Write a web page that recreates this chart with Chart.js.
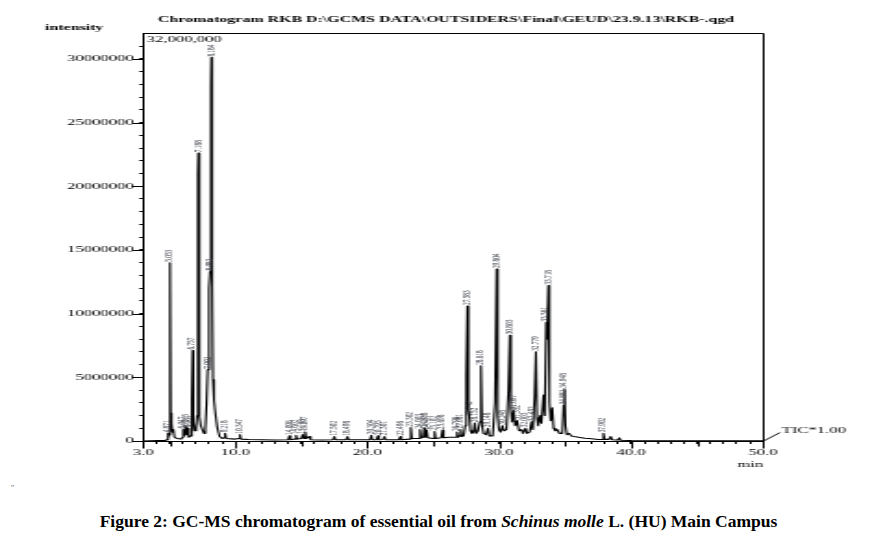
<!DOCTYPE html>
<html>
<head>
<meta charset="utf-8">
<script src="https://cdn.jsdelivr.net/npm/chart.js@4.4.1/dist/chart.umd.min.js"></script>
<style>
  html,body{margin:0;padding:0;background:#fff;width:896px;height:537px;overflow:hidden;position:relative;}
  #c{position:absolute;left:0;top:0;}
  #cap{position:absolute;left:0;width:877px;top:511px;text-align:center;font:bold 17.5px "Liberation Serif",serif;color:#000;line-height:20px;white-space:nowrap;}
  #mark{position:absolute;left:11px;top:484px;font:8px "Liberation Serif",serif;color:#666;}
</style>
</head>
<body>
<canvas id="c" width="484" height="470" style="width:896px;height:470px;"></canvas>
<div id="mark">&#698;</div>
<div id="cap">Figure 2: GC-MS chromatogram of essential oil from <i>Schinus molle</i> L. (HU) Main Campus</div>
<script>
// ---- data (retention time in min, TIC intensity) ----
const retentionTime = [
  3.00, 4.70, 4.80, 4.87, 4.92, 4.98, 5.05, 5.10, 5.16, 5.22, 5.30, 5.38, 5.55, 5.90, 5.98,
  6.05, 6.12, 6.22, 6.30, 6.38, 6.46, 6.62, 6.70, 6.76, 6.82, 6.90, 7.02, 7.10, 7.16, 7.19,
  7.24, 7.30, 7.38, 7.50, 7.62, 7.72, 7.82, 7.90, 8.00, 8.08, 8.15, 8.18, 8.24, 8.30, 8.38,
  8.48, 8.62, 8.80, 9.00, 9.15, 9.22, 9.30, 10.00, 10.28, 10.35, 10.42, 11.00, 12.00, 13.00,
  14.00, 14.10, 14.18, 14.50, 14.60, 14.68, 15.00, 15.10, 15.18, 15.30, 15.38, 15.60, 15.70,
  16.50, 17.40, 17.50, 17.58, 18.40, 18.50, 18.58, 20.20, 20.30, 20.38, 20.70, 20.80, 20.88,
  21.20, 21.30, 21.38, 22.40, 22.50, 22.58, 23.20, 23.30, 23.38, 23.90, 24.00, 24.08, 24.25,
  24.32, 24.40, 24.50, 24.58, 25.00, 25.10, 25.18, 25.60, 25.70, 25.78, 26.20, 26.70, 26.80,
  26.88, 27.00, 27.08, 27.16, 27.30, 27.42, 27.50, 27.58, 27.66, 27.74, 27.82, 27.92, 28.05,
  28.15, 28.25, 28.40, 28.52, 28.62, 28.70, 28.80, 29.00, 29.15, 29.25, 29.50, 29.68, 29.80,
  29.88, 29.98, 30.10, 30.25, 30.35, 30.55, 30.70, 30.80, 30.88, 30.98, 31.10, 31.20, 31.35,
  31.50, 31.70, 31.80, 32.00, 32.10, 32.30, 32.45, 32.55, 32.68, 32.78, 32.86, 32.95, 33.10,
  33.20, 33.35, 33.45, 33.56, 33.62, 33.72, 33.80, 33.90, 34.02, 34.12, 34.25, 34.40, 34.55,
  34.78, 34.88, 34.95, 35.02, 35.12, 35.30, 35.45, 35.70, 36.00, 36.50, 37.00, 37.50, 37.82,
  37.90, 37.98, 38.30, 38.45, 38.55, 39.00, 39.10, 39.20, 40.00, 42.00, 50.00
];
const intensity = [
  0, 0.05e6, 0.10e6, 0.60e6, 0.20e6, 0.50e6, 14.0e6, 2.2e6, 1.4e6, 0.7e6, 0.9e6, 0.3e6, 0.2e6, 0.15e6, 0.3e6,
  0.9e6, 0.4e6, 1.1e6, 0.5e6, 1.0e6, 0.3e6, 0.4e6, 3.2e6, 7.1e6, 1.5e6, 0.8e6, 1.0e6, 2.0e6, 21.0e6, 22.6e6,
  5.0e6, 1.9e6, 1.2e6, 0.9e6, 0.6e6, 0.9e6, 3.0e6, 5.6e6, 12.0e6, 13.3e6, 28.0e6, 30.1e6, 12.3e6, 4.8e6, 3.2e6,
  2.2e6, 1.1e6, 0.35e6, 0.2e6, 0.25e6, 0.6e6, 0.2e6, 0.15e6, 0.2e6, 0.5e6, 0.15e6, 0.12e6, 0.1e6, 0.08e6,
  0.1e6, 0.4e6, 0.1e6, 0.15e6, 0.45e6, 0.15e6, 0.2e6, 0.5e6, 0.2e6, 0.7e6, 0.2e6, 0.35e6, 0.1e6,
  0.08e6, 0.1e6, 0.35e6, 0.1e6, 0.1e6, 0.35e6, 0.1e6, 0.1e6, 0.45e6, 0.1e6, 0.1e6, 0.4e6, 0.1e6,
  0.12e6, 0.35e6, 0.1e6, 0.1e6, 0.35e6, 0.1e6, 0.15e6, 1.05e6, 0.2e6, 0.2e6, 0.9e6, 0.25e6, 0.3e6,
  1.0e6, 0.3e6, 0.85e6, 0.25e6, 0.2e6, 0.75e6, 0.2e6, 0.25e6, 0.85e6, 0.25e6, 0.3e6, 0.3e6, 0.7e6,
  0.3e6, 0.4e6, 0.9e6, 0.35e6, 0.4e6, 1.2e6, 5.0e6, 10.6e6, 2.5e6, 1.9e6, 0.8e6, 0.6e6, 0.7e6,
  1.4e6, 0.6e6, 0.8e6, 1.5e6, 5.9e6, 1.2e6, 0.6e6, 0.5e6, 1.0e6, 0.4e6, 0.4e6, 3.0e6, 13.5e6,
  2.0e6, 0.9e6, 0.7e6, 1.2e6, 0.8e6, 0.9e6, 4.0e6, 8.3e6, 2.5e6, 1.5e6, 2.4e6, 1.2e6, 1.6e6,
  0.8e6, 0.9e6, 0.6e6, 1.0e6, 0.6e6, 0.7e6, 1.5e6, 0.9e6, 3.5e6, 7.0e6, 1.8e6, 1.2e6, 2.0e6,
  1.4e6, 3.6e6, 2.0e6, 9.3e6, 8.0e6, 12.2e6, 3.0e6, 1.6e6, 2.6e6, 1.0e6, 0.8e6, 0.9e6, 0.6e6,
  0.6e6, 2.8e6, 4.1e6, 1.2e6, 0.5e6, 0.6e6, 0.4e6, 0.35e6, 0.3e6, 0.22e6, 0.18e6, 0.12e6, 0.12e6,
  0.6e6, 0.15e6, 0.12e6, 0.35e6, 0.1e6, 0.08e6, 0.25e6, 0.06e6, 0.04e6, 0.02e6, 0.02e6
];
// peak labels: retention time of the labelled vertex and its printed text
const peakTime = [4.87, 5.05, 6.05, 6.22, 6.38, 6.76, 7.19, 7.90, 8.08, 8.18, 9.22, 10.35,
  14.10, 14.60, 15.10, 15.30, 17.50, 18.50, 20.30, 20.80, 21.30, 22.50, 23.30, 24.00, 24.32, 24.50,
  25.10, 25.70, 26.80, 27.08, 27.58, 27.74, 28.15, 28.62, 29.15, 29.80, 30.25, 30.80, 31.10, 31.35,
  32.00, 32.45, 32.78, 33.56, 33.72, 34.88, 34.95, 37.90];
const peakText = ["4.871", "5.053", "6.047", "6.215", "6.381", "6.757", "7.188", "7.902", "8.082", "8.184", "9.218", "10.347",
  "14.096", "14.602", "15.103", "15.297", "17.502", "18.498", "20.304", "20.795", "21.301", "22.496", "23.302", "24.003", "24.318", "24.497",
  "25.102", "25.698", "26.796", "27.081", "27.583", "27.742", "28.152", "28.618", "29.148", "29.804", "30.248", "30.803", "31.097", "31.352",
  "32.003", "32.452", "32.779", "33.561", "33.718", "34.882", "34.948", "37.902"];
// axis tick labels
const xTickValues = [3, 10, 20, 30, 40, 50];
const xTickLabels = ["3.0", "10.0", "20.0", "30.0", "40.0", "50.0"];
const yTickValues = [0, 5000000, 10000000, 15000000, 20000000, 25000000, 30000000];
const yTickLabels = ["0", "5000000", "10000000", "15000000", "20000000", "25000000", "30000000"];
const yMaxLabel = "32,000,000";
const titleText = "Chromatogram RKB D:\\GCMS DATA\\OUTSIDERS\\Final\\GEUD\\23.9.13\\RKB-.qgd";
const yAxisTitle = "intensity";
const xAxisTitle = "min";
const traceName = "TIC*1.00";

// ---- layout (internal canvas px; canvas is shown stretched horizontally) ----
const W = 484, H = 470;
const PLOT_L = 77.25, PLOT_R = 412.2, PLOT_T = 33.4, PLOT_B = 441;
const SERIF = '"Liberation Serif", "Times New Roman", serif';

const points = retentionTime.map((t, i) => ({x: t, y: intensity[i]}));

const decor = {
  id: 'decor',
  afterDatasetsDraw(chart) {
    const {ctx, scales: {x, y}} = chart;
    ctx.save();
    ctx.fillStyle = '#2a2f3a';
    ctx.font = '5.3px ' + SERIF;
    ctx.textAlign = 'left';
    ctx.textBaseline = 'middle';
    peakTime.forEach((t, k) => {
      const i = retentionTime.indexOf(t);
      if (i < 0) return;
      const px = x.getPixelForValue(t);
      const py = y.getPixelForValue(intensity[i]) - 1;
      ctx.save();
      ctx.translate(px, py);
      ctx.rotate(-Math.PI / 2);
      ctx.fillText(peakText[k], 0, 0);
      ctx.restore();
    });
    ctx.restore();
  },
  afterDraw(chart) {
    const {ctx, chartArea: a, scales: {x, y}} = chart;
    ctx.save();
    ctx.strokeStyle = '#000';
    ctx.lineWidth = 1;
    const top = Math.round(a.top) + 0.5, right = Math.round(a.right) + 0.5, left = Math.round(a.left) + 0.5, bottom = Math.round(a.bottom) + 0.5;
    ctx.beginPath();
    ctx.moveTo(left - 0.5, top); ctx.lineTo(right, top);
    ctx.moveTo(right, top); ctx.lineTo(right, bottom);
    for (let v = 5; v <= 45; v += 10) {
      const px = Math.round(x.getPixelForValue(v)) + 0.5;
      ctx.moveTo(px, bottom); ctx.lineTo(px, bottom + 5);
    }
    xTickValues.forEach(v => {
      const px = Math.round(x.getPixelForValue(v)) + 0.5;
      ctx.moveTo(px, bottom); ctx.lineTo(px, bottom + 7);
    });
    yTickValues.forEach(v => {
      const py = Math.round(y.getPixelForValue(v)) + 0.5;
      ctx.moveTo(left - 6, py); ctx.lineTo(left, py);
    });
    ctx.moveTo(right + 0.5, bottom - 1); ctx.lineTo(421.4, 432.5);
    ctx.stroke();

    ctx.fillStyle = '#000';
    ctx.font = 'bold 8.6px ' + SERIF;
    ctx.textAlign = 'center'; ctx.textBaseline = 'alphabetic';
    ctx.fillText(titleText, 240.9, 21.7);
    ctx.textAlign = 'left';
    ctx.fillText(yAxisTitle, 24.3, 30);
    ctx.font = '9px ' + SERIF;
    ctx.fillText(yMaxLabel, a.left + 2, 42);
    ctx.textBaseline = 'middle';
    ctx.fillText(traceName, 422.3, 431);
    ctx.textAlign = 'center'; ctx.textBaseline = 'alphabetic';
    ctx.fillText(xAxisTitle, 405.2, 467);
    ctx.restore();
  }
};

new Chart(document.getElementById('c'), {
  type: 'line',
  data: {datasets: [{
    data: points,
    borderColor: '#000',
    borderWidth: 1.1,
    borderJoinStyle: 'round',
    pointRadius: 0,
    tension: 0,
    fill: false
  }]},
  options: {
    responsive: false,
    animation: false,
    devicePixelRatio: 1,
    layout: {padding: {top: PLOT_T, right: W - PLOT_R, bottom: 0, left: 0}},
    plugins: {legend: {display: false}, tooltip: {enabled: false}, title: {display: false}},
    scales: {
      x: {
        type: 'linear', min: 3, max: 50,
        afterBuildTicks: s => { const t = []; for (let v = 3; v <= 50; v++) t.push({value: v}); s.ticks = t; },
        afterFit: s => { s.height = H - PLOT_B; },
        ticks: {
          autoSkip: false, maxRotation: 0, padding: 3, color: '#000',
          font: {family: SERIF, size: 9},
          callback: v => { const i = xTickValues.indexOf(v); return i >= 0 ? xTickLabels[i] : ''; }
        },
        grid: {drawOnChartArea: false, drawTicks: true, tickLength: 3, color: '#000', lineWidth: 1},
        border: {display: true, color: '#000', width: 1}
      },
      y: {
        type: 'linear', min: 0, max: 32000000,
        afterBuildTicks: s => { const t = []; for (let v = 0; v <= 31000000; v += 1000000) t.push({value: v}); s.ticks = t; },
        afterFit: s => { s.width = PLOT_L; },
        ticks: {
          autoSkip: false, padding: 3, color: '#000',
          font: {family: SERIF, size: 9},
          callback: v => { const i = yTickValues.indexOf(v); return i >= 0 ? yTickLabels[i] : ''; }
        },
        grid: {drawOnChartArea: false, drawTicks: true, tickLength: 2, color: '#000', lineWidth: 1},
        border: {display: true, color: '#000', width: 1}
      }
    }
  },
  plugins: [decor]
});
</script>
</body>
</html>
